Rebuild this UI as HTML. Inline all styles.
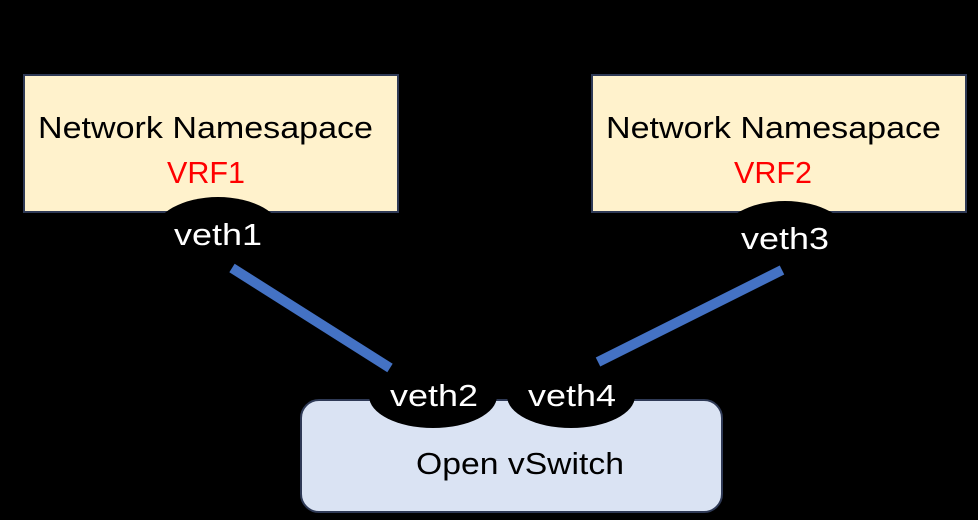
<!DOCTYPE html>
<html><head><style>
body{margin:0;background:#000;width:978px;height:515px;overflow:hidden;font-family:"Liberation Sans",sans-serif}
</style></head><body>
<svg width="978" height="515" xmlns="http://www.w3.org/2000/svg" font-family="Liberation Sans, sans-serif">
<rect width="978" height="515" fill="#000"/>
<rect x="24" y="75" width="374" height="137" fill="#fff2cc" stroke="#2f3a56" stroke-width="2"/>
<rect x="592" y="75" width="374" height="137" fill="#fff2cc" stroke="#2f3a56" stroke-width="2"/>
<text x="38" y="138" font-size="31" textLength="335" lengthAdjust="spacingAndGlyphs" fill="#000">Network Namesapace</text>
<text x="167" y="183" font-size="31" textLength="78" lengthAdjust="spacingAndGlyphs" fill="#ff0000">VRF1</text>
<text x="606" y="138" font-size="31" textLength="335" lengthAdjust="spacingAndGlyphs" fill="#000">Network Namesapace</text>
<text x="734" y="183" font-size="31" textLength="78" lengthAdjust="spacingAndGlyphs" fill="#ff0000">VRF2</text>
<ellipse cx="218" cy="233" rx="64" ry="36" fill="#000"/>
<ellipse cx="785" cy="237" rx="64" ry="36" fill="#000"/>
<text x="174" y="245" font-size="31" textLength="88" lengthAdjust="spacingAndGlyphs" fill="#fff">veth1</text>
<text x="741" y="249" font-size="31" textLength="88" lengthAdjust="spacingAndGlyphs" fill="#fff">veth3</text>
<line x1="232" y1="268" x2="390" y2="368" stroke="#4472c4" stroke-width="10"/>
<line x1="782" y1="270" x2="598" y2="362" stroke="#4472c4" stroke-width="10"/>
<rect x="301" y="400" width="421" height="112" rx="18" fill="#dae3f3" stroke="#2f3a56" stroke-width="2"/>
<ellipse cx="433" cy="396" rx="64" ry="32" fill="#000"/>
<ellipse cx="571" cy="396" rx="64" ry="32" fill="#000"/>
<text x="390" y="406" font-size="31" textLength="88" lengthAdjust="spacingAndGlyphs" fill="#fff">veth2</text>
<text x="528" y="406" font-size="31" textLength="88" lengthAdjust="spacingAndGlyphs" fill="#fff">veth4</text>
<text x="416" y="474" font-size="31" textLength="208" lengthAdjust="spacingAndGlyphs" fill="#000">Open vSwitch</text>
</svg>
</body></html>
